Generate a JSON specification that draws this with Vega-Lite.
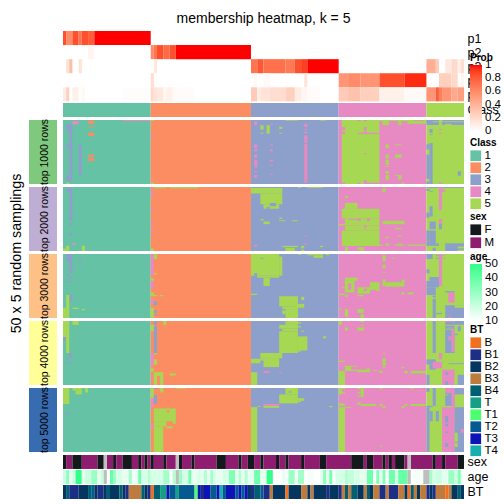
{"$schema":"https://vega.github.io/schema/vega-lite/v6.json","background":"white","padding":{"left":8,"top":12,"right":0,"bottom":0},"autosize":{"type":"pad"},"bounds":"flush","align":"each","spacing":{"row":3,"column":6},"columns":2,"config":{"view":{"stroke":null},"font":"Liberation Sans","axis":{"labelFont":"Liberation Sans","titleFont":"Liberation Sans"},"legend":{"titleFont":"Liberation Sans","labelFont":"Liberation Sans"}},"resolve":{"scale":{"color":"independent"},"legend":{"color":"independent"}},
"datasets":{
"prob":[
{"r":0,"s":1,"c":0,"d":1,"v":0.85},{"r":0,"s":1,"c":1,"d":3,"v":0.6},{"r":0,"s":1,"c":3,"d":5,"v":0.85},{"r":0,"s":1,"c":5,"d":6,"v":0.7},{"r":0,"s":1,"c":6,"d":8,"v":0.85},{"r":0,"s":1,"c":8,"d":10,"v":0.8},{"r":0,"s":1,"c":10,"d":28,"v":1},
{"r":1,"s":2,"c":8,"d":10,"v":0.05},{"r":1,"s":2,"c":28,"d":29,"v":0.6},{"r":1,"s":2,"c":29,"d":30,"v":0.7},{"r":1,"s":2,"c":30,"d":32,"v":0.85},{"r":1,"s":2,"c":32,"d":34,"v":0.75},{"r":1,"s":2,"c":34,"d":36,"v":0.85},{"r":1,"s":2,"c":36,"d":60,"v":1},
{"r":2,"s":3,"c":1,"d":2,"v":0.15},{"r":2,"s":3,"c":2,"d":3,"v":0.35},{"r":2,"s":3,"c":5,"d":6,"v":0.15},{"r":2,"s":3,"c":29,"d":30,"v":0.12},{"r":2,"s":3,"c":60,"d":62,"v":0.7},{"r":2,"s":3,"c":62,"d":64,"v":0.82},{"r":2,"s":3,"c":64,"d":71,"v":0.72},{"r":2,"s":3,"c":71,"d":74,"v":0.68},{"r":2,"s":3,"c":74,"d":76,"v":0.85},{"r":2,"s":3,"c":76,"d":78,"v":0.9},{"r":2,"s":3,"c":78,"d":88,"v":1},{"r":2,"s":3,"c":116,"d":119,"v":0.42},{"r":2,"s":3,"c":119,"d":120,"v":0.28},{"r":2,"s":3,"c":122,"d":124,"v":0.12},{"r":2,"s":3,"c":124,"d":126,"v":0.2},{"r":2,"s":3,"c":126,"d":127,"v":0.08},{"r":2,"s":3,"c":127,"d":128,"v":0.18},
{"r":3,"s":4,"c":28,"d":29,"v":0.18},{"r":3,"s":4,"c":61,"d":62,"v":0.04},{"r":3,"s":4,"c":64,"d":66,"v":0.03},{"r":3,"s":4,"c":77,"d":78,"v":0.15},{"r":3,"s":4,"c":88,"d":91,"v":0.55},{"r":3,"s":4,"c":91,"d":95,"v":0.6},{"r":3,"s":4,"c":95,"d":101,"v":0.55},{"r":3,"s":4,"c":101,"d":109,"v":0.85},{"r":3,"s":4,"c":109,"d":116,"v":0.95},{"r":3,"s":4,"c":120,"d":124,"v":0.25},{"r":3,"s":4,"c":124,"d":126,"v":0.2},{"r":3,"s":4,"c":127,"d":128,"v":0.05},
{"r":4,"s":5,"c":0,"d":1,"v":0.1},{"r":4,"s":5,"c":1,"d":2,"v":0.25},{"r":4,"s":5,"c":3,"d":5,"v":0.08},{"r":4,"s":5,"c":6,"d":7,"v":0.04},{"r":4,"s":5,"c":19,"d":28,"v":0.01},{"r":4,"s":5,"c":28,"d":29,"v":0.2},{"r":4,"s":5,"c":29,"d":30,"v":0.15},{"r":4,"s":5,"c":30,"d":32,"v":0.12},{"r":4,"s":5,"c":32,"d":33,"v":0.05},{"r":4,"s":5,"c":33,"d":35,"v":0.08},{"r":4,"s":5,"c":35,"d":36,"v":0.03},{"r":4,"s":5,"c":36,"d":42,"v":0.02},{"r":4,"s":5,"c":60,"d":62,"v":0.28},{"r":4,"s":5,"c":62,"d":63,"v":0.1},{"r":4,"s":5,"c":63,"d":66,"v":0.15},{"r":4,"s":5,"c":66,"d":71,"v":0.18},{"r":4,"s":5,"c":71,"d":74,"v":0.25},{"r":4,"s":5,"c":74,"d":76,"v":0.1},{"r":4,"s":5,"c":76,"d":78,"v":0.05},{"r":4,"s":5,"c":78,"d":82,"v":0.02},{"r":4,"s":5,"c":88,"d":91,"v":0.28},{"r":4,"s":5,"c":91,"d":95,"v":0.32},{"r":4,"s":5,"c":95,"d":101,"v":0.25},{"r":4,"s":5,"c":101,"d":109,"v":0.08},{"r":4,"s":5,"c":109,"d":116,"v":0.03},{"r":4,"s":5,"c":116,"d":119,"v":0.55},{"r":4,"s":5,"c":119,"d":120,"v":0.8},{"r":4,"s":5,"c":120,"d":121,"v":0.65},{"r":4,"s":5,"c":121,"d":124,"v":0.55},{"r":4,"s":5,"c":124,"d":126,"v":0.45},{"r":4,"s":5,"c":126,"d":128,"v":0.5}],
"classes":[{"r":5.12,"s":6.11,"c":0,"d":28,"k":"1"},{"r":5.12,"s":6.11,"c":28,"d":60,"k":"2"},{"r":5.12,"s":6.11,"c":60,"d":88,"k":"3"},{"r":5.12,"s":6.11,"c":88,"d":116,"k":"4"},{"r":5.12,"s":6.11,"c":116,"d":128,"k":"5"}],
"b1":[
{"c":0,"d":28,"r":0,"s":50,"k":"1"},{"c":28,"d":60,"r":0,"s":50,"k":"2"},{"c":60,"d":88,"r":0,"s":50,"k":"3"},{"c":88,"d":116,"r":0,"s":50,"k":"4"},{"c":116,"d":128,"r":0,"s":50,"k":"5"},
{"c":2,"d":3,"r":3,"s":48,"k":"3"},{"c":1,"d":2,"r":3,"s":9,"k":"3"},{"c":1,"d":2,"r":19,"s":22,"k":"3"},{"c":1,"d":2,"r":43,"s":48,"k":"3"},{"c":3,"d":5,"r":0.8,"s":3.5,"k":"4"},{"c":5,"d":6,"r":19,"s":43,"k":"3"},{"c":8,"d":10,"r":0.5,"s":3,"k":"2"},{"c":8,"d":10,"r":5,"s":5.6,"k":"2"},{"c":8,"d":10,"r":10,"s":12.5,"k":"2"},{"c":8,"d":10,"r":27,"s":29,"k":"2"},{"c":8,"d":10,"r":30,"s":32,"k":"2"},{"c":19,"d":28,"r":0,"s":0.7,"k":"4"},{"c":1,"d":2,"r":49,"s":50,"k":"5"},
{"c":28,"d":29,"r":0,"s":0.7,"k":"5"},{"c":28,"d":29,"r":11,"s":12,"k":"4"},{"c":28,"d":29,"r":49,"s":50,"k":"5"},
{"c":61,"d":62,"r":1,"s":4,"k":"4"},{"c":61,"d":62,"r":19,"s":22,"k":"4"},{"c":61,"d":62,"r":23,"s":24.5,"k":"4"},{"c":61,"d":62,"r":27,"s":29.5,"k":"4"},{"c":61,"d":62,"r":31,"s":37,"k":"4"},{"c":61,"d":62,"r":40,"s":41,"k":"4"},{"c":61,"d":62,"r":43,"s":45,"k":"4"},{"c":63,"d":64,"r":4,"s":7.5,"k":"5"},{"c":63,"d":64,"r":10,"s":10.7,"k":"5"},{"c":65,"d":66,"r":4,"s":10.7,"k":"5"},{"c":66,"d":67,"r":3,"s":3.7,"k":"4"},{"c":66,"d":67,"r":19,"s":19.7,"k":"4"},{"c":66,"d":67,"r":23,"s":24.5,"k":"4"},{"c":66,"d":67,"r":31,"s":32.5,"k":"4"},{"c":66,"d":67,"r":35,"s":35.7,"k":"4"},{"c":66,"d":67,"r":42,"s":42.7,"k":"4"},{"c":69,"d":70,"r":5.3,"s":7,"k":"5"},{"c":69,"d":70,"r":10,"s":10.7,"k":"5"},{"c":77,"d":78,"r":3,"s":5.5,"k":"4"},{"c":77,"d":78,"r":7,"s":7.7,"k":"4"},{"c":77,"d":78,"r":9,"s":10.5,"k":"4"},{"c":77,"d":78,"r":12,"s":18,"k":"4"},{"c":77,"d":78,"r":18.7,"s":49,"k":"4"},{"c":71,"d":74,"r":0,"s":0.5,"k":"5"},{"c":74,"d":75,"r":0,"s":0.5,"k":"5"},{"c":82,"d":84,"r":0,"s":0.5,"k":"5"},
{"c":89,"d":101,"r":0,"s":50,"k":"5"},{"c":89,"d":90,"r":5.5,"s":8,"k":"4"},{"c":89,"d":90,"r":9,"s":11,"k":"4"},{"c":94,"d":95,"r":0,"s":1,"k":"4"},{"c":96,"d":97,"r":0,"s":1,"k":"4"},{"c":96,"d":97,"r":5.5,"s":8,"k":"4"},{"c":96,"d":97,"r":9,"s":11,"k":"4"},{"c":94,"d":101,"r":10,"s":11,"k":"4"},{"c":96,"d":97,"r":26,"s":26.7,"k":"4"},{"c":96,"d":97,"r":47,"s":50,"k":"4"},{"c":89,"d":90,"r":49,"s":50,"k":"4"},{"c":94,"d":95,"r":49,"s":50,"k":"4"},{"c":97,"d":101,"r":49,"s":50,"k":"4"},
{"c":101,"d":116,"r":0,"s":3,"k":"5"},{"c":101,"d":102,"r":1,"s":3,"k":"4"},{"c":104,"d":107,"r":0.7,"s":3,"k":"4"},{"c":108,"d":110,"r":1,"s":3,"k":"4"},{"c":112,"d":115,"r":0,"s":0.6,"k":"4"},{"c":102,"d":104,"r":3,"s":4,"k":"5"},{"c":107,"d":108,"r":3,"s":4,"k":"5"},{"c":103,"d":104,"r":19,"s":22,"k":"5"},{"c":103,"d":104,"r":27,"s":30,"k":"5"},{"c":103,"d":104,"r":31,"s":35,"k":"5"},{"c":103,"d":104,"r":36,"s":36.7,"k":"5"},{"c":103,"d":104,"r":40,"s":42,"k":"5"},{"c":103,"d":104,"r":43,"s":47,"k":"5"},{"c":106,"d":108,"r":19,"s":19.7,"k":"5"},{"c":106,"d":108,"r":27,"s":29.5,"k":"5"},{"c":106,"d":108,"r":43,"s":43.7,"k":"5"},{"c":107,"d":108,"r":43.5,"s":46.5,"k":"5"},{"c":108,"d":109,"r":49,"s":50,"k":"5"},
{"c":116,"d":128,"r":0,"s":4,"k":"3"},{"c":118,"d":126,"r":1,"s":1.7,"k":"5"},{"c":126,"d":128,"r":1,"s":1.7,"k":"5"},{"c":120,"d":121,"r":0,"s":4,"k":"5"},{"c":122,"d":124,"r":3,"s":4,"k":"5"},{"c":117,"d":118,"r":7,"s":10,"k":"3"},{"c":117,"d":118,"r":11,"s":11.6,"k":"3"},{"c":116,"d":117,"r":19,"s":23,"k":"3"},{"c":116,"d":117,"r":27,"s":46,"k":"3"},{"c":116,"d":117,"r":48,"s":50,"k":"3"},{"c":117,"d":118,"r":18,"s":50,"k":"3"},{"c":120,"d":121,"r":7,"s":7.7,"k":"4"},{"c":120,"d":121,"r":10,"s":10.7,"k":"4"},{"c":120,"d":121,"r":49,"s":50,"k":"4"},{"c":126,"d":127,"r":40,"s":43.5,"k":"3"}],
"b2":[
{"c":0,"d":28,"r":0,"s":50,"k":"1"},{"c":28,"d":60,"r":0,"s":50,"k":"2"},{"c":60,"d":88,"r":0,"s":50,"k":"3"},{"c":88,"d":116,"r":0,"s":50,"k":"4"},{"c":116,"d":128,"r":0,"s":50,"k":"5"},
{"c":1,"d":2,"r":1,"s":4,"k":"3"},{"c":2,"d":3,"r":0.5,"s":26,"k":"3"},{"c":2,"d":3,"r":28,"s":30,"k":"3"},{"c":2,"d":3,"r":36,"s":38,"k":"3"},{"c":3,"d":4,"r":44,"s":45.5,"k":"4"},{"c":1,"d":2,"r":46,"s":50,"k":"5"},{"c":0,"d":1,"r":48,"s":50,"k":"5"},{"c":6,"d":7,"r":46,"s":50,"k":"5"},
{"c":29,"d":33,"r":0,"s":1,"k":"5"},{"c":34,"d":43,"r":0,"s":1,"k":"5"},{"c":28,"d":29,"r":1.5,"s":3,"k":"4"},{"c":28,"d":29,"r":5,"s":7,"k":"4"},{"c":28,"d":29,"r":17,"s":18,"k":"4"},{"c":28,"d":29,"r":27,"s":28,"k":"4"},{"c":28,"d":29,"r":31,"s":32,"k":"4"},{"c":28,"d":29,"r":34,"s":35,"k":"4"},{"c":28,"d":29,"r":48,"s":50,"k":"5"},
{"c":75,"d":76,"r":0,"s":0.7,"k":"5"},{"c":78,"d":83,"r":0,"s":0.7,"k":"5"},{"c":60,"d":70,"r":0.7,"s":5,"k":"5"},{"c":63,"d":70,"r":5,"s":13.5,"k":"5"},{"c":64,"d":69,"r":13.5,"s":17,"k":"5"},{"c":66,"d":68,"r":12.5,"s":15,"k":"3"},{"c":65,"d":66,"r":15.5,"s":17,"k":"3"},{"c":63,"d":64,"r":25,"s":26,"k":"5"},{"c":69,"d":70,"r":24,"s":25,"k":"5"},{"c":69,"d":71,"r":26,"s":26.7,"k":"5"},{"c":73,"d":75,"r":26,"s":26.7,"k":"5"},{"c":64,"d":66,"r":27,"s":29,"k":"5"},{"c":77,"d":78,"r":38,"s":38.6,"k":"4"},{"c":77,"d":78,"r":44,"s":44.7,"k":"4"},{"c":61,"d":62,"r":45,"s":46.5,"k":"4"},{"c":70,"d":75,"r":46,"s":47,"k":"5"},{"c":76,"d":77,"r":46,"s":48,"k":"5"},{"c":71,"d":74,"r":47.5,"s":50,"k":"5"},{"c":82,"d":83,"r":46,"s":47,"k":"5"},{"c":76,"d":77,"r":49,"s":50,"k":"5"},
{"c":102,"d":103,"r":1,"s":4,"k":"5"},{"c":90,"d":91,"r":7,"s":8.5,"k":"5"},{"c":90,"d":94,"r":12.5,"s":17,"k":"5"},{"c":89,"d":101,"r":17,"s":24.5,"k":"5"},{"c":90,"d":94,"r":24.5,"s":30,"k":"5"},{"c":91,"d":94,"r":25,"s":25.6,"k":"4"},{"c":95,"d":101,"r":24.5,"s":30,"k":"5"},{"c":97,"d":98,"r":24.5,"s":26.5,"k":"4"},{"c":94,"d":96,"r":26.5,"s":30,"k":"5"},{"c":90,"d":101,"r":30,"s":34,"k":"5"},{"c":96,"d":97,"r":30,"s":31.5,"k":"4"},{"c":96,"d":97,"r":32.5,"s":33,"k":"4"},{"c":88,"d":90,"r":29,"s":30,"k":"5"},{"c":89,"d":101,"r":34,"s":46,"k":"5"},{"c":101,"d":102,"r":45,"s":46,"k":"5"},{"c":102,"d":109,"r":26.5,"s":29,"k":"5"},{"c":106,"d":108,"r":32,"s":33,"k":"5"},{"c":103,"d":104,"r":39,"s":40,"k":"5"},{"c":107,"d":108,"r":38,"s":39,"k":"5"},{"c":103,"d":104,"r":44,"s":46,"k":"5"},{"c":106,"d":109,"r":45,"s":46,"k":"5"},{"c":107,"d":108,"r":44,"s":45,"k":"5"},{"c":110,"d":116,"r":45,"s":46,"k":"5"},{"c":90,"d":91,"r":47,"s":50,"k":"5"},{"c":94,"d":96,"r":47,"s":49,"k":"5"},{"c":95,"d":96,"r":49,"s":50,"k":"5"},
{"c":116,"d":120,"r":0,"s":0.7,"k":"3"},{"c":116,"d":117,"r":1.5,"s":3,"k":"3"},{"c":117,"d":118,"r":3,"s":3.7,"k":"3"},{"c":120,"d":121,"r":0,"s":18,"k":"4"},{"c":121,"d":122,"r":2,"s":4,"k":"4"},{"c":121,"d":128,"r":0,"s":0.7,"k":"3"},{"c":117,"d":118,"r":15,"s":23,"k":"3"},{"c":116,"d":117,"r":20,"s":24,"k":"3"},{"c":120,"d":121,"r":25,"s":29,"k":"4"},{"c":120,"d":121,"r":29,"s":33,"k":"3"},{"c":117,"d":119,"r":27,"s":33,"k":"3"},{"c":116,"d":117,"r":34,"s":46,"k":"3"},{"c":117,"d":119,"r":34,"s":46,"k":"3"},{"c":119,"d":120,"r":44,"s":46,"k":"3"},{"c":118,"d":119,"r":47.5,"s":50,"k":"3"},{"c":122,"d":128,"r":44,"s":50,"k":"3"},{"c":126,"d":128,"r":46.5,"s":48,"k":"5"},{"c":126,"d":128,"r":49,"s":50,"k":"5"}],
"b3":[
{"c":0,"d":28,"r":0,"s":50,"k":"1"},{"c":28,"d":60,"r":0,"s":50,"k":"2"},{"c":60,"d":88,"r":0,"s":50,"k":"3"},{"c":88,"d":116,"r":0,"s":50,"k":"4"},{"c":116,"d":128,"r":0,"s":50,"k":"5"},
{"c":1,"d":2,"r":0,"s":6,"k":"3"},{"c":2,"d":3,"r":0,"s":15,"k":"3"},{"c":5,"d":6,"r":4,"s":5,"k":"3"},{"c":5,"d":6,"r":7,"s":8,"k":"3"},{"c":1,"d":2,"r":16,"s":17,"k":"3"},{"c":2,"d":3,"r":18,"s":19,"k":"3"},{"c":1,"d":3,"r":21,"s":22,"k":"3"},{"c":2,"d":3,"r":32,"s":37,"k":"3"},{"c":1,"d":2,"r":32,"s":50,"k":"5"},{"c":0,"d":1,"r":42,"s":50,"k":"5"},{"c":3,"d":5,"r":42,"s":43,"k":"5"},{"c":6,"d":7,"r":43,"s":44,"k":"5"},
{"c":28,"d":29,"r":0,"s":15,"k":"4"},{"c":29,"d":30,"r":0,"s":4,"k":"5"},{"c":28,"d":29,"r":15,"s":17,"k":"4"},{"c":29,"d":30,"r":15,"s":16,"k":"5"},{"c":28,"d":29,"r":19,"s":21,"k":"5"},{"c":28,"d":29,"r":21,"s":27,"k":"4"},{"c":28,"d":29,"r":30,"s":33,"k":"5"},{"c":29,"d":30,"r":32,"s":33,"k":"5"},{"c":31,"d":32,"r":32,"s":33,"k":"5"},{"c":28,"d":29,"r":35,"s":39,"k":"4"},{"c":29,"d":30,"r":37,"s":40,"k":"3"},{"c":28,"d":29,"r":42,"s":50,"k":"5"},{"c":29,"d":30,"r":44,"s":46,"k":"3"},{"c":29,"d":30,"r":47,"s":48,"k":"3"},
{"c":60,"d":69,"r":0,"s":17,"k":"5"},{"c":69,"d":70,"r":2,"s":17,"k":"5"},{"c":63,"d":64,"r":3,"s":3.7,"k":"3"},{"c":61,"d":62,"r":15,"s":17,"k":"3"},{"c":62,"d":69,"r":17,"s":18.5,"k":"5"},{"c":64,"d":66,"r":18.5,"s":25,"k":"5"},{"c":75,"d":76,"r":0,"s":0.6,"k":"5"},{"c":78,"d":83,"r":0,"s":1,"k":"5"},{"c":80,"d":83,"r":1,"s":3,"k":"5"},{"c":84,"d":85,"r":0,"s":1,"k":"5"},{"c":60,"d":62,"r":31,"s":32,"k":"5"},{"c":69,"d":75,"r":33,"s":41,"k":"5"},{"c":70,"d":75,"r":41,"s":43,"k":"5"},{"c":74,"d":76,"r":39,"s":42,"k":"5"},{"c":71,"d":75,"r":43,"s":50,"k":"5"},{"c":70,"d":71,"r":44,"s":47,"k":"5"},{"c":76,"d":77,"r":33.5,"s":36,"k":"5"},{"c":76,"d":77,"r":39,"s":42,"k":"5"},
{"c":102,"d":103,"r":1,"s":5.5,"k":"5"},{"c":102,"d":103,"r":8.5,"s":11,"k":"5"},{"c":105,"d":106,"r":3,"s":3.6,"k":"5"},{"c":102,"d":103,"r":14,"s":14.6,"k":"5"},{"c":90,"d":94,"r":18.5,"s":21,"k":"5"},{"c":90,"d":93,"r":21,"s":30,"k":"5"},{"c":91,"d":92,"r":23,"s":28,"k":"4"},{"c":89,"d":90,"r":26,"s":26.7,"k":"5"},{"c":94,"d":98,"r":26,"s":31,"k":"5"},{"c":96,"d":97,"r":27,"s":29,"k":"4"},{"c":98,"d":101,"r":22,"s":28,"k":"5"},{"c":100,"d":101,"r":28,"s":29,"k":"5"},{"c":102,"d":103,"r":20,"s":25,"k":"5"},{"c":103,"d":109,"r":22,"s":25.5,"k":"5"},{"c":108,"d":109,"r":20,"s":22,"k":"5"},{"c":88,"d":90,"r":31,"s":32,"k":"5"},{"c":90,"d":91,"r":32,"s":33.5,"k":"5"},{"c":94,"d":96,"r":32,"s":33,"k":"5"},{"c":108,"d":109,"r":30,"s":31.5,"k":"5"},{"c":110,"d":112,"r":30,"s":31.5,"k":"5"},{"c":88,"d":89,"r":42.5,"s":43.3,"k":"5"},{"c":90,"d":91,"r":43,"s":49,"k":"5"},{"c":94,"d":96,"r":43,"s":46,"k":"5"},{"c":95,"d":96,"r":47,"s":50,"k":"5"},
{"c":116,"d":118,"r":0,"s":4,"k":"3"},{"c":119,"d":120,"r":1,"s":1.7,"k":"3"},{"c":119,"d":120,"r":3,"s":3.7,"k":"3"},{"c":120,"d":121,"r":0,"s":25,"k":"4"},{"c":121,"d":122,"r":1,"s":1.7,"k":"4"},{"c":121,"d":122,"r":3,"s":3.7,"k":"4"},{"c":116,"d":117,"r":12,"s":15,"k":"3"},{"c":117,"d":120,"r":18,"s":21,"k":"3"},{"c":116,"d":120,"r":21,"s":26,"k":"3"},{"c":116,"d":119,"r":26,"s":32,"k":"3"},{"c":118,"d":119,"r":35,"s":50,"k":"3"},{"c":118,"d":119,"r":32.5,"s":34,"k":"3"},{"c":119,"d":121,"r":46,"s":47,"k":"3"},{"c":122,"d":128,"r":40,"s":50,"k":"3"},{"c":125,"d":128,"r":40,"s":42,"k":"5"},{"c":123,"d":125,"r":30,"s":38,"k":"4"},{"c":122,"d":125,"r":29,"s":30,"k":"3"},{"c":123,"d":124,"r":49,"s":50,"k":"4"}],
"b4":[
{"c":0,"d":28,"r":0,"s":50,"k":"1"},{"c":28,"d":60,"r":0,"s":50,"k":"2"},{"c":60,"d":88,"r":0,"s":50,"k":"3"},{"c":88,"d":116,"r":0,"s":50,"k":"4"},{"c":116,"d":128,"r":0,"s":50,"k":"5"},
{"c":0,"d":1,"r":0,"s":12.5,"k":"5"},{"c":0,"d":1,"r":12.5,"s":16,"k":"3"},{"c":1,"d":2,"r":0,"s":25,"k":"5"},{"c":3,"d":5,"r":0,"s":3,"k":"5"},{"c":2,"d":3,"r":25,"s":29,"k":"3"},{"c":1,"d":2,"r":29,"s":30,"k":"3"},{"c":1,"d":3,"r":32,"s":33,"k":"3"},
{"c":29,"d":30,"r":0,"s":3,"k":"3"},{"c":32,"d":33,"r":0,"s":3,"k":"5"},{"c":28,"d":29,"r":3,"s":8,"k":"5"},{"c":29,"d":30,"r":4,"s":25,"k":"3"},{"c":29,"d":30,"r":25,"s":26,"k":"5"},{"c":28,"d":29,"r":25,"s":35,"k":"4"},{"c":29,"d":30,"r":30,"s":34,"k":"5"},{"c":28,"d":29,"r":37,"s":39.5,"k":"5"},{"c":29,"d":32,"r":40,"s":50,"k":"5"},{"c":30,"d":31,"r":43,"s":50,"k":"2"},{"c":34,"d":36,"r":41,"s":42.5,"k":"5"},{"c":28,"d":29,"r":43,"s":44,"k":"4"},
{"c":71,"d":75,"r":0,"s":3,"k":"5"},{"c":69,"d":75,"r":3,"s":6,"k":"5"},{"c":75,"d":76,"r":1,"s":2,"k":"5"},{"c":75,"d":76,"r":4,"s":5,"k":"5"},{"c":70,"d":75,"r":6,"s":8,"k":"5"},{"c":76,"d":77,"r":7.5,"s":8.3,"k":"5"},{"c":69,"d":75,"r":8,"s":25,"k":"5"},{"c":75,"d":78,"r":12,"s":23,"k":"5"},{"c":75,"d":76,"r":23,"s":24,"k":"5"},{"c":83,"d":84,"r":12,"s":13.5,"k":"5"},{"c":63,"d":70,"r":25,"s":29,"k":"5"},{"c":60,"d":63,"r":29.5,"s":33,"k":"5"},{"c":64,"d":69,"r":29,"s":36,"k":"5"},{"c":63,"d":64,"r":29,"s":31,"k":"5"},{"c":64,"d":66,"r":39,"s":40.5,"k":"4"},{"c":69,"d":70,"r":40,"s":40.7,"k":"4"},{"c":60,"d":62,"r":40,"s":50,"k":"5"},
{"c":88,"d":89,"r":0,"s":3,"k":"5"},{"c":95,"d":96,"r":0,"s":1,"k":"5"},{"c":95,"d":96,"r":3,"s":3.7,"k":"5"},{"c":90,"d":91,"r":5,"s":7.5,"k":"5"},{"c":94,"d":96,"r":5,"s":7.5,"k":"5"},{"c":102,"d":103,"r":25,"s":25.6,"k":"5"},{"c":102,"d":103,"r":29,"s":35,"k":"5"},{"c":102,"d":103,"r":36,"s":37,"k":"5"},{"c":88,"d":90,"r":31,"s":32,"k":"5"},{"c":108,"d":109,"r":36,"s":37,"k":"5"},{"c":90,"d":92,"r":35,"s":39,"k":"5"},{"c":92,"d":94,"r":35,"s":35.7,"k":"5"},{"c":92,"d":94,"r":38,"s":39,"k":"5"},{"c":94,"d":98,"r":38,"s":40,"k":"5"},{"c":97,"d":98,"r":37,"s":38,"k":"5"},{"c":99,"d":101,"r":38.5,"s":39,"k":"5"},{"c":101,"d":102,"r":39,"s":40.5,"k":"5"},{"c":109,"d":110,"r":39,"s":41,"k":"5"},{"c":111,"d":116,"r":39,"s":41,"k":"5"},{"c":88,"d":90,"r":39,"s":50,"k":"5"},
{"c":118,"d":119,"r":0,"s":25,"k":"3"},{"c":122,"d":125,"r":0,"s":25,"k":"3"},{"c":122,"d":125,"r":0,"s":0.7,"k":"4"},{"c":122,"d":125,"r":3,"s":3.7,"k":"5"},{"c":122,"d":125,"r":6,"s":6.7,"k":"5"},{"c":123,"d":125,"r":5,"s":5.6,"k":"4"},{"c":124,"d":125,"r":7,"s":24,"k":"4"},{"c":123,"d":124,"r":12,"s":15,"k":"4"},{"c":125,"d":128,"r":0,"s":3,"k":"3"},{"c":126,"d":127,"r":4,"s":8,"k":"3"},{"c":125,"d":126,"r":10,"s":11,"k":"3"},{"c":120,"d":121,"r":25,"s":30,"k":"4"},{"c":116,"d":119,"r":30,"s":34,"k":"3"},{"c":117,"d":119,"r":34,"s":38,"k":"3"},{"c":118,"d":121,"r":32,"s":37,"k":"4"},{"c":116,"d":117,"r":42,"s":50,"k":"3"},{"c":121,"d":125,"r":38,"s":50,"k":"4"},{"c":122,"d":123,"r":40,"s":42,"k":"3"},{"c":122,"d":123,"r":47,"s":50,"k":"3"},{"c":125,"d":126,"r":44,"s":50,"k":"5"},{"c":126,"d":128,"r":42,"s":50,"k":"3"},{"c":123,"d":128,"r":33,"s":33.7,"k":"3"}],
"b5":[
{"c":0,"d":28,"r":0,"s":50,"k":"1"},{"c":28,"d":60,"r":0,"s":50,"k":"2"},{"c":60,"d":88,"r":0,"s":50,"k":"3"},{"c":88,"d":116,"r":0,"s":50,"k":"4"},{"c":116,"d":128,"r":0,"s":50,"k":"5"},
{"c":0,"d":2,"r":0,"s":12.5,"k":"5"},{"c":3,"d":6,"r":0,"s":2,"k":"5"},{"c":4,"d":6,"r":2,"s":5,"k":"5"},{"c":7,"d":8,"r":0,"s":3.5,"k":"5"},{"c":1,"d":2,"r":19,"s":20.5,"k":"3"},
{"c":28,"d":29,"r":0,"s":8,"k":"5"},{"c":29,"d":30,"r":0,"s":1,"k":"3"},{"c":31,"d":32,"r":0,"s":3.5,"k":"5"},{"c":36,"d":39,"r":0,"s":0.6,"k":"5"},{"c":28,"d":29,"r":8,"s":11,"k":"4"},{"c":29,"d":30,"r":5.5,"s":12.5,"k":"3"},{"c":28,"d":29,"r":12,"s":15,"k":"4"},{"c":29,"d":36,"r":16,"s":26,"k":"5"},{"c":33,"d":34,"r":17.5,"s":19,"k":"2"},{"c":29,"d":33,"r":26,"s":30,"k":"5"},{"c":35,"d":36,"r":26,"s":28,"k":"5"},{"c":33,"d":35,"r":30,"s":31.5,"k":"5"},{"c":29,"d":32,"r":30,"s":50,"k":"5"},{"c":28,"d":29,"r":29,"s":31,"k":"4"},
{"c":71,"d":75,"r":0,"s":5,"k":"5"},{"c":72,"d":73,"r":2.7,"s":3.5,"k":"3"},{"c":69,"d":75,"r":5,"s":12,"k":"5"},{"c":75,"d":77,"r":8,"s":10,"k":"5"},{"c":75,"d":76,"r":10,"s":11,"k":"5"},{"c":62,"d":63,"r":14,"s":14.7,"k":"5"},{"c":64,"d":69,"r":12.5,"s":14,"k":"4"},{"c":64,"d":69,"r":14,"s":15.5,"k":"5"},{"c":85,"d":86,"r":14,"s":15,"k":"5"},{"c":60,"d":62,"r":15,"s":50,"k":"5"},
{"c":88,"d":89,"r":0,"s":5,"k":"5"},{"c":89,"d":90,"r":0,"s":1,"k":"5"},{"c":89,"d":90,"r":3,"s":4,"k":"5"},{"c":94,"d":95,"r":0,"s":1,"k":"5"},{"c":94,"d":95,"r":3,"s":4,"k":"5"},{"c":94,"d":95,"r":6,"s":6.7,"k":"5"},{"c":95,"d":96,"r":0,"s":7,"k":"5"},{"c":101,"d":102,"r":0,"s":1,"k":"5"},{"c":111,"d":112,"r":0,"s":1,"k":"5"},{"c":88,"d":90,"r":12,"s":14,"k":"5"},{"c":94,"d":95,"r":11,"s":13,"k":"5"},{"c":95,"d":100,"r":12.5,"s":14,"k":"5"},{"c":101,"d":102,"r":12.5,"s":14,"k":"5"},{"c":109,"d":110,"r":12.5,"s":14,"k":"5"},{"c":111,"d":116,"r":12.5,"s":14,"k":"5"},{"c":102,"d":103,"r":14,"s":15.5,"k":"5"},{"c":108,"d":109,"r":14,"s":15.5,"k":"5"},{"c":90,"d":92,"r":15,"s":15.6,"k":"5"},{"c":88,"d":90,"r":15,"s":50,"k":"5"},{"c":101,"d":102,"r":45,"s":45.7,"k":"5"},
{"c":116,"d":117,"r":0,"s":3,"k":"3"},{"c":118,"d":119,"r":0,"s":14,"k":"3"},{"c":122,"d":125,"r":0,"s":4,"k":"4"},{"c":122,"d":125,"r":4,"s":14,"k":"3"},{"c":122,"d":123,"r":5,"s":5.7,"k":"5"},{"c":124,"d":125,"r":0,"s":15,"k":"4"},{"c":125,"d":128,"r":0,"s":5,"k":"3"},{"c":127,"d":128,"r":0,"s":0.6,"k":"4"},{"c":116,"d":118,"r":14,"s":15,"k":"3"},{"c":116,"d":117,"r":15,"s":50,"k":"3"},{"c":117,"d":118,"r":18,"s":26,"k":"3"},{"c":119,"d":120,"r":18,"s":26,"k":"3"},{"c":121,"d":125,"r":15,"s":50,"k":"4"},{"c":122,"d":123,"r":22,"s":27,"k":"3"},{"c":122,"d":123,"r":28,"s":30,"k":"3"},{"c":122,"d":123,"r":34,"s":35,"k":"3"},{"c":122,"d":123,"r":43,"s":46,"k":"3"},{"c":125,"d":128,"r":15,"s":50,"k":"3"},{"c":125,"d":126,"r":35,"s":42,"k":"5"},{"c":125,"d":126,"r":42,"s":43,"k":"4"},{"c":125,"d":126,"r":43,"s":46,"k":"5"},{"c":127,"d":128,"r":32,"s":35,"k":"4"}],
"sexRows":[
{"t":"sex","c":0,"d":1,"v":"F"},{"t":"sex","c":1,"d":3,"v":"M"},{"t":"sex","c":3,"d":6,"v":"F"},{"t":"sex","c":6,"d":11,"v":"M"},{"t":"sex","c":11,"d":13,"v":"F"},{"t":"sex","c":14,"d":16,"v":"M"},{"t":"sex","c":16,"d":17,"v":"F"},{"t":"sex","c":17,"d":19,"v":"M"},{"t":"sex","c":19,"d":22,"v":"F"},{"t":"sex","c":22,"d":24,"v":"M"},{"t":"sex","c":24,"d":25,"v":"F"},{"t":"sex","c":25,"d":26,"v":"M"},{"t":"sex","c":26,"d":27,"v":"F"},{"t":"sex","c":27,"d":28,"v":"M"},{"t":"sex","c":28,"d":29,"v":"F"},{"t":"sex","c":29,"d":32,"v":"M"},{"t":"sex","c":32,"d":33,"v":"F"},{"t":"sex","c":33,"d":36,"v":"M"},{"t":"sex","c":37,"d":38,"v":"F"},{"t":"sex","c":38,"d":41,"v":"M"},{"t":"sex","c":41,"d":42,"v":"F"},{"t":"sex","c":42,"d":49,"v":"M"},{"t":"sex","c":49,"d":52,"v":"F"},{"t":"sex","c":52,"d":56,"v":"M"},{"t":"sex","c":56,"d":57,"v":"F"},{"t":"sex","c":57,"d":59,"v":"M"},{"t":"sex","c":59,"d":61,"v":"F"},{"t":"sex","c":61,"d":63,"v":"M"},{"t":"sex","c":63,"d":64,"v":"F"},{"t":"sex","c":64,"d":68,"v":"M"},{"t":"sex","c":68,"d":69,"v":"F"},{"t":"sex","c":69,"d":71,"v":"M"},{"t":"sex","c":71,"d":72,"v":"F"},{"t":"sex","c":72,"d":76,"v":"M"},{"t":"sex","c":76,"d":77,"v":"F"},{"t":"sex","c":77,"d":82,"v":"M"},{"t":"sex","c":82,"d":84,"v":"F"},{"t":"sex","c":84,"d":92,"v":"M"},{"t":"sex","c":92,"d":96,"v":"F"},{"t":"sex","c":96,"d":97,"v":"M"},{"t":"sex","c":97,"d":99,"v":"F"},{"t":"sex","c":99,"d":102,"v":"M"},{"t":"sex","c":102,"d":103,"v":"F"},{"t":"sex","c":103,"d":104,"v":"M"},{"t":"sex","c":104,"d":105,"v":"F"},{"t":"sex","c":105,"d":106,"v":"M"},{"t":"sex","c":106,"d":109,"v":"F"},{"t":"sex","c":109,"d":110,"v":"M"},{"t":"sex","c":111,"d":118,"v":"M"},{"t":"sex","c":118,"d":119,"v":"F"},{"t":"sex","c":119,"d":121,"v":"M"},{"t":"sex","c":121,"d":122,"v":"F"},{"t":"sex","c":122,"d":126,"v":"M"},{"t":"sex","c":126,"d":128,"v":"F"}],
"ageRows":[
{"t":"age","c":0,"d":1,"a":20},{"t":"age","c":1,"d":2,"a":32},{"t":"age","c":2,"d":3,"a":15},{"t":"age","c":3,"d":4,"a":20},{"t":"age","c":4,"d":6,"a":50},{"t":"age","c":6,"d":7,"a":15},{"t":"age","c":7,"d":9,"a":20},{"t":"age","c":9,"d":11,"a":30},{"t":"age","c":11,"d":12,"a":15},{"t":"age","c":12,"d":13,"a":22},{"t":"age","c":14,"d":15,"a":10},{"t":"age","c":15,"d":16,"a":40},{"t":"age","c":16,"d":17,"a":30},{"t":"age","c":17,"d":19,"a":18},{"t":"age","c":19,"d":21,"a":15},{"t":"age","c":21,"d":22,"a":28},{"t":"age","c":22,"d":23,"a":12},{"t":"age","c":23,"d":24,"a":15},{"t":"age","c":24,"d":25,"a":38},{"t":"age","c":25,"d":27,"a":18},{"t":"age","c":27,"d":28,"a":25},{"t":"age","c":28,"d":32,"a":18},{"t":"age","c":32,"d":34,"a":28},{"t":"age","c":34,"d":35,"a":12},{"t":"age","c":35,"d":36,"a":25},{"t":"age","c":37,"d":38,"a":30},{"t":"age","c":38,"d":40,"a":18},{"t":"age","c":40,"d":41,"a":38},{"t":"age","c":41,"d":43,"a":15},{"t":"age","c":43,"d":44,"a":18},{"t":"age","c":44,"d":45,"a":15},{"t":"age","c":45,"d":46,"a":25},{"t":"age","c":46,"d":47,"a":15},{"t":"age","c":47,"d":48,"a":28},{"t":"age","c":48,"d":49,"a":18},{"t":"age","c":49,"d":51,"a":15},{"t":"age","c":51,"d":53,"a":18},{"t":"age","c":53,"d":55,"a":35},{"t":"age","c":55,"d":56,"a":15},{"t":"age","c":56,"d":57,"a":25},{"t":"age","c":57,"d":58,"a":15},{"t":"age","c":58,"d":59,"a":25},{"t":"age","c":59,"d":61,"a":15},{"t":"age","c":61,"d":63,"a":38},{"t":"age","c":63,"d":65,"a":15},{"t":"age","c":65,"d":67,"a":50},{"t":"age","c":67,"d":70,"a":10},{"t":"age","c":70,"d":71,"a":15},{"t":"age","c":71,"d":72,"a":12},{"t":"age","c":72,"d":74,"a":30},{"t":"age","c":74,"d":75,"a":12},{"t":"age","c":75,"d":77,"a":28},{"t":"age","c":77,"d":78,"a":10},{"t":"age","c":78,"d":80,"a":12},{"t":"age","c":80,"d":82,"a":10},{"t":"age","c":82,"d":83,"a":15},{"t":"age","c":83,"d":84,"a":32},{"t":"age","c":84,"d":85,"a":15},{"t":"age","c":85,"d":86,"a":38},{"t":"age","c":86,"d":87,"a":12},{"t":"age","c":87,"d":90,"a":18},{"t":"age","c":90,"d":91,"a":25},{"t":"age","c":91,"d":93,"a":22},{"t":"age","c":93,"d":95,"a":18},{"t":"age","c":95,"d":97,"a":15},{"t":"age","c":97,"d":99,"a":38},{"t":"age","c":99,"d":100,"a":12},{"t":"age","c":100,"d":101,"a":35},{"t":"age","c":101,"d":102,"a":15},{"t":"age","c":102,"d":103,"a":35},{"t":"age","c":103,"d":104,"a":10},{"t":"age","c":104,"d":106,"a":38},{"t":"age","c":106,"d":107,"a":18},{"t":"age","c":107,"d":110,"a":40},{"t":"age","c":111,"d":112,"a":10},{"t":"age","c":112,"d":115,"a":12},{"t":"age","c":117,"d":118,"a":28},{"t":"age","c":118,"d":119,"a":18},{"t":"age","c":119,"d":121,"a":20},{"t":"age","c":121,"d":123,"a":15},{"t":"age","c":123,"d":125,"a":30},{"t":"age","c":125,"d":126,"a":20},{"t":"age","c":126,"d":127,"a":35},{"t":"age","c":127,"d":128,"a":12}],
"missing":[{"t":"sex","c":13,"d":14},{"t":"sex","c":36,"d":37},{"t":"sex","c":110,"d":111},{"t":"age","c":13,"d":14},{"t":"age","c":36,"d":37},{"t":"age","c":110,"d":111},{"t":"age","c":115,"d":117}],
"btRows":[
{"t":"BT","c":0,"d":1,"v":"B2"},{"t":"BT","c":1,"d":2,"v":"B4"},{"t":"BT","c":2,"d":5,"v":"B1"},{"t":"BT","c":5,"d":8,"v":"B2"},{"t":"BT","c":8,"d":9,"v":"B4"},{"t":"BT","c":9,"d":10,"v":"T2"},{"t":"BT","c":10,"d":11,"v":"B2"},{"t":"BT","c":11,"d":13,"v":"B1"},{"t":"BT","c":13,"d":14,"v":"B2"},{"t":"BT","c":14,"d":15,"v":"B4"},{"t":"BT","c":15,"d":18,"v":"B2"},{"t":"BT","c":18,"d":19,"v":"B4"},{"t":"BT","c":19,"d":20,"v":"B2"},{"t":"BT","c":20,"d":21,"v":"B1"},{"t":"BT","c":21,"d":25,"v":"B3"},{"t":"BT","c":25,"d":26,"v":"B4"},{"t":"BT","c":26,"d":27,"v":"B2"},{"t":"BT","c":27,"d":28,"v":"B1"},{"t":"BT","c":28,"d":29,"v":"B"},{"t":"BT","c":29,"d":31,"v":"B4"},{"t":"BT","c":31,"d":33,"v":"T"},{"t":"BT","c":33,"d":34,"v":"T3"},{"t":"BT","c":34,"d":36,"v":"T2"},{"t":"BT","c":36,"d":37,"v":"T"},{"t":"BT","c":37,"d":42,"v":"T2"},{"t":"BT","c":42,"d":43,"v":"T1"},{"t":"BT","c":43,"d":44,"v":"T3"},{"t":"BT","c":44,"d":45,"v":"B1"},{"t":"BT","c":45,"d":47,"v":"T3"},{"t":"BT","c":47,"d":49,"v":"T2"},{"t":"BT","c":49,"d":50,"v":"T3"},{"t":"BT","c":50,"d":51,"v":"T4"},{"t":"BT","c":51,"d":52,"v":"T2"},{"t":"BT","c":52,"d":55,"v":"T3"},{"t":"BT","c":55,"d":56,"v":"T2"},{"t":"BT","c":56,"d":57,"v":"T3"},{"t":"BT","c":57,"d":58,"v":"T2"},{"t":"BT","c":58,"d":59,"v":"T3"},{"t":"BT","c":59,"d":60,"v":"B2"},{"t":"BT","c":60,"d":61,"v":"B1"},{"t":"BT","c":61,"d":63,"v":"B4"},{"t":"BT","c":63,"d":64,"v":"T2"},{"t":"BT","c":64,"d":66,"v":"B1"},{"t":"BT","c":66,"d":67,"v":"B3"},{"t":"BT","c":67,"d":71,"v":"B2"},{"t":"BT","c":71,"d":72,"v":"B"},{"t":"BT","c":72,"d":76,"v":"B2"},{"t":"BT","c":76,"d":78,"v":"B3"},{"t":"BT","c":78,"d":79,"v":"B2"},{"t":"BT","c":79,"d":80,"v":"B3"},{"t":"BT","c":80,"d":84,"v":"B2"},{"t":"BT","c":84,"d":85,"v":"B1"},{"t":"BT","c":85,"d":88,"v":"B2"},{"t":"BT","c":88,"d":89,"v":"B1"},{"t":"BT","c":89,"d":90,"v":"B3"},{"t":"BT","c":90,"d":91,"v":"B4"},{"t":"BT","c":91,"d":92,"v":"B3"},{"t":"BT","c":92,"d":94,"v":"B4"},{"t":"BT","c":94,"d":96,"v":"B2"},{"t":"BT","c":96,"d":97,"v":"B3"},{"t":"BT","c":97,"d":98,"v":"B4"},{"t":"BT","c":98,"d":99,"v":"B2"},{"t":"BT","c":99,"d":101,"v":"B3"},{"t":"BT","c":101,"d":103,"v":"B1"},{"t":"BT","c":103,"d":104,"v":"B3"},{"t":"BT","c":104,"d":107,"v":"B1"},{"t":"BT","c":107,"d":109,"v":"B3"},{"t":"BT","c":109,"d":110,"v":"B2"},{"t":"BT","c":110,"d":111,"v":"B"},{"t":"BT","c":111,"d":112,"v":"B4"},{"t":"BT","c":112,"d":113,"v":"B3"},{"t":"BT","c":113,"d":114,"v":"B2"},{"t":"BT","c":114,"d":116,"v":"B3"},{"t":"BT","c":116,"d":117,"v":"B1"},{"t":"BT","c":117,"d":118,"v":"B2"},{"t":"BT","c":118,"d":119,"v":"B1"},{"t":"BT","c":119,"d":122,"v":"B3"},{"t":"BT","c":122,"d":123,"v":"B"},{"t":"BT","c":123,"d":124,"v":"B3"},{"t":"BT","c":124,"d":126,"v":"B2"},{"t":"BT","c":126,"d":127,"v":"B4"},{"t":"BT","c":127,"d":128,"v":"B2"}]
},
"concat":[
{"width":28,"height":86,"data":{"values":[{"blank":""}]},"mark":{"type":"rect","opacity":0},"encoding":{}},
{"width":401,"height":86,"title":{"text":"membership heatmap, k = 5","fontSize":14,"fontWeight":"normal","font":"Liberation Sans","anchor":"middle","offset":5},
"encoding":{"x":{"field":"c","type":"quantitative","scale":{"domain":[0,128],"nice":false,"zero":false},"axis":null},"x2":{"field":"d"},"y":{"field":"r","type":"quantitative","scale":{"domain":[0,6.11],"nice":false,"zero":false,"reverse":true},"axis":{"orient":"right","title":null,"values":[0.5,1.5,2.5,3.5,4.5,5.6],"labelExpr":"['p1','p2','p3','p4','p5','Class'][floor(datum.value)]","ticks":false,"domain":false,"grid":false,"labelFontSize":12.5,"labelPadding":3,"labelColor":"#000000"}},"y2":{"field":"s"}},
"layer":[
{"data":{"name":"prob"},"mark":{"type":"rect"},"encoding":{"color":{"field":"v","type":"quantitative","title":"Prob","scale":{"domain":[0,1],"range":["#ffffff","#ff0000"],"interpolate":"lab"},"legend":{"orient":"none","legendX":407,"legendY":22,"values":[0,0.2,0.4,0.6,0.8,1],"format":"~g","labelOverlap":false,"gradientLength":66,"gradientThickness":12,"gradientStrokeWidth":0,"titleFontSize":10,"titleFontWeight":"bold","titlePadding":2,"labelFontSize":11.5,"labelOffset":3,"labelColor":"#000000","titleColor":"#000000","padding":0,"encode":{"labels":{"update":{"baseline":{"value":"middle"}}}}}}}},
{"data":{"name":"classes"},"mark":{"type":"rect"},"encoding":{"color":{"field":"k","type":"nominal","title":"Class","scale":{"domain":["1","2","3","4","5"],"range":["#66C2A5","#FC8D62","#8DA0CB","#E78AC3","#A6D854"]},"legend":{"orient":"none","legendX":407,"legendY":107,"symbolType":"square","symbolSize":115,"symbolStrokeWidth":0,"symbolOpacity":1,"titleFontSize":10,"titleFontWeight":"bold","titlePadding":2,"labelFontSize":11.5,"labelOffset":3,"labelColor":"#000000","titleColor":"#000000","padding":0,"rowPadding":-1.2}}}}
],"resolve":{"scale":{"color":"independent"},"legend":{"color":"independent"}}},
{"width":28,"height":64,"data":{"values":[{"set":"top 1000 rows"}]},"layer":[{"mark":{"type":"rect","fill":"#7FC97F"},"encoding":{}},{"mark":{"type":"text","angle":270,"fontSize":10.5,"font":"Liberation Sans","color":"#000000","dy":2},"encoding":{"text":{"field":"set"}}}]},
{"width":401,"height":64,"data":{"name":"b1"},"mark":{"type":"rect"},"encoding":{"x":{"field":"c","type":"quantitative","scale":{"domain":[0,128],"nice":false,"zero":false},"axis":null},"x2":{"field":"d"},"y":{"field":"r","type":"quantitative","scale":{"domain":[0,50],"nice":false,"zero":false,"reverse":true},"axis":null},"y2":{"field":"s"},"color":{"field":"k","type":"nominal","legend":null,"scale":{"domain":["1","2","3","4","5"],"range":["#66C2A5","#FC8D62","#8DA0CB","#E78AC3","#A6D854"]}}}},
{"width":28,"height":64,"data":{"values":[{"set":"top 2000 rows"}]},"layer":[{"mark":{"type":"rect","fill":"#BEAED4"},"encoding":{"y":{"field":"set","type":"nominal","scale":{"paddingInner":0,"paddingOuter":0},"axis":{"labels":false,"ticks":false,"domain":false,"title":"50 x 5 random samplings","titleFontSize":14.3,"titleFontWeight":"normal","titleX":-6,"titleY":66,"titleColor":"#000000"}}}},{"mark":{"type":"text","angle":270,"fontSize":10.5,"font":"Liberation Sans","color":"#000000","dy":2},"encoding":{"text":{"field":"set"}}}]},
{"width":401,"height":64,"data":{"name":"b2"},"mark":{"type":"rect"},"encoding":{"x":{"field":"c","type":"quantitative","scale":{"domain":[0,128],"nice":false,"zero":false},"axis":null},"x2":{"field":"d"},"y":{"field":"r","type":"quantitative","scale":{"domain":[0,50],"nice":false,"zero":false,"reverse":true},"axis":null},"y2":{"field":"s"},"color":{"field":"k","type":"nominal","legend":null,"scale":{"domain":["1","2","3","4","5"],"range":["#66C2A5","#FC8D62","#8DA0CB","#E78AC3","#A6D854"]}}}},
{"width":28,"height":64,"data":{"values":[{"set":"top 3000 rows"}]},"layer":[{"mark":{"type":"rect","fill":"#FDC086"},"encoding":{}},{"mark":{"type":"text","angle":270,"fontSize":10.5,"font":"Liberation Sans","color":"#000000","dy":2},"encoding":{"text":{"field":"set"}}}]},
{"width":401,"height":64,"data":{"name":"b3"},"mark":{"type":"rect"},"encoding":{"x":{"field":"c","type":"quantitative","scale":{"domain":[0,128],"nice":false,"zero":false},"axis":null},"x2":{"field":"d"},"y":{"field":"r","type":"quantitative","scale":{"domain":[0,50],"nice":false,"zero":false,"reverse":true},"axis":null},"y2":{"field":"s"},"color":{"field":"k","type":"nominal","legend":null,"scale":{"domain":["1","2","3","4","5"],"range":["#66C2A5","#FC8D62","#8DA0CB","#E78AC3","#A6D854"]}}}},
{"width":28,"height":64,"data":{"values":[{"set":"top 4000 rows"}]},"layer":[{"mark":{"type":"rect","fill":"#FFFF99"},"encoding":{}},{"mark":{"type":"text","angle":270,"fontSize":10.5,"font":"Liberation Sans","color":"#000000","dy":2},"encoding":{"text":{"field":"set"}}}]},
{"width":401,"height":64,"data":{"name":"b4"},"mark":{"type":"rect"},"encoding":{"x":{"field":"c","type":"quantitative","scale":{"domain":[0,128],"nice":false,"zero":false},"axis":null},"x2":{"field":"d"},"y":{"field":"r","type":"quantitative","scale":{"domain":[0,50],"nice":false,"zero":false,"reverse":true},"axis":null},"y2":{"field":"s"},"color":{"field":"k","type":"nominal","legend":null,"scale":{"domain":["1","2","3","4","5"],"range":["#66C2A5","#FC8D62","#8DA0CB","#E78AC3","#A6D854"]}}}},
{"width":28,"height":64,"data":{"values":[{"set":"top 5000 rows"}]},"layer":[{"mark":{"type":"rect","fill":"#386CB0"},"encoding":{}},{"mark":{"type":"text","angle":270,"fontSize":10.5,"font":"Liberation Sans","color":"#000000","dy":2},"encoding":{"text":{"field":"set"}}}]},
{"width":401,"height":64,"data":{"name":"b5"},"mark":{"type":"rect"},"encoding":{"x":{"field":"c","type":"quantitative","scale":{"domain":[0,128],"nice":false,"zero":false},"axis":null},"x2":{"field":"d"},"y":{"field":"r","type":"quantitative","scale":{"domain":[0,50],"nice":false,"zero":false,"reverse":true},"axis":null},"y2":{"field":"s"},"color":{"field":"k","type":"nominal","legend":null,"scale":{"domain":["1","2","3","4","5"],"range":["#66C2A5","#FC8D62","#8DA0CB","#E78AC3","#A6D854"]}}}},
{"width":28,"height":44,"data":{"values":[{"blank":""}]},"mark":{"type":"rect","opacity":0},"encoding":{}},
{"width":401,"height":44,
"encoding":{"x":{"field":"c","type":"quantitative","scale":{"domain":[0,128],"nice":false,"zero":false},"axis":null},"x2":{"field":"d"},"y":{"field":"t","type":"nominal","scale":{"domain":["sex","age","BT"],"paddingInner":0.07,"paddingOuter":0},"axis":{"orient":"right","title":null,"ticks":false,"domain":false,"grid":false,"labelFontSize":12.5,"labelPadding":3,"labelColor":"#000000"}}},
"layer":[
{"data":{"name":"sexRows"},"mark":{"type":"rect"},"encoding":{"color":{"field":"v","type":"nominal","title":"sex","scale":{"domain":["F","M"],"range":["#14191C","#8F1D6F"]},"legend":{"orient":"none","legendX":407,"legendY":-243,"symbolType":"square","symbolSize":115,"symbolStrokeWidth":0,"symbolOpacity":1,"titleFontSize":10,"titleFontWeight":"bold","titlePadding":2,"labelFontSize":11.5,"labelOffset":3,"labelColor":"#000000","titleColor":"#000000","padding":0,"rowPadding":0}}}},
{"data":{"name":"ageRows"},"mark":{"type":"rect"},"encoding":{"color":{"field":"a","type":"quantitative","title":"age","scale":{"type":"linear","domain":[10,50],"range":["#ffffff","#33FF88"],"interpolate":"rgb"},"legend":{"orient":"none","legendX":407,"legendY":-203,"values":[10,20,30,40,50],"labelOverlap":false,"gradientLength":57,"gradientThickness":12,"gradientStrokeWidth":0,"titleFontSize":10,"titleFontWeight":"bold","titlePadding":2,"labelFontSize":11.5,"labelOffset":3,"labelColor":"#000000","titleColor":"#000000","padding":0,"encode":{"labels":{"update":{"baseline":{"value":"middle"}}}}}}}},
{"data":{"name":"missing"},"mark":{"type":"rect","fill":"#BEBEBE"}},
{"data":{"name":"btRows"},"mark":{"type":"rect"},"encoding":{"color":{"field":"v","type":"nominal","title":"BT","scale":{"domain":["B","B1","B2","B3","B4","T","T1","T2","T3","T4"],"range":["#F07020","#1C2E85","#05365F","#BD7C3E","#005F73","#169F85","#4CFF70","#055A92","#0C14B8","#17AEB0"]},"legend":{"orient":"none","legendX":407,"legendY":-130,"symbolType":"square","symbolSize":115,"symbolStrokeWidth":0,"symbolOpacity":1,"titleFontSize":10,"titleFontWeight":"bold","titlePadding":2,"labelFontSize":11.5,"labelOffset":3,"labelColor":"#000000","titleColor":"#000000","padding":0,"rowPadding":-2}}}}
],"resolve":{"scale":{"color":"independent"},"legend":{"color":"independent"}}}
]}
